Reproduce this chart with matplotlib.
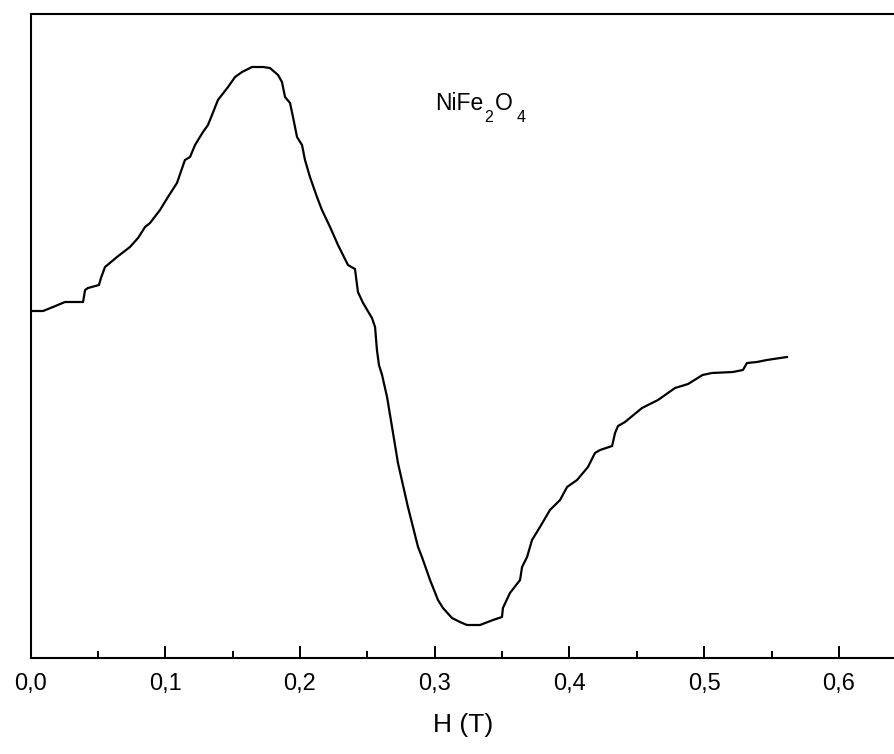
import matplotlib
matplotlib.use("Agg")
import matplotlib.pyplot as plt
from matplotlib.ticker import FixedLocator, FixedFormatter, MultipleLocator

plt.rcParams['font.family'] = ['Liberation Sans', 'DejaVu Sans']

# Field H (T)
H = [0.001, 0.0093, 0.0167, 0.0256, 0.0390, 0.0405, 0.0427, 0.0508, 0.0523, 0.0553,
     0.0642, 0.0738, 0.0798, 0.0850, 0.0887, 0.0961, 0.1020, 0.1087, 0.1146, 0.1184,
     0.1221, 0.1280, 0.1317, 0.1347, 0.1391, 0.1466, 0.1518, 0.1570, 0.1644, 0.1725,
     0.1777, 0.1837, 0.1866, 0.1889, 0.1926, 0.1948, 0.1978, 0.2015, 0.2037, 0.2074,
     0.2126, 0.2163, 0.2223, 0.2282, 0.2356, 0.2408, 0.2430, 0.2468, 0.2534, 0.2557,
     0.2571, 0.2586, 0.2609, 0.2646, 0.2683, 0.2727, 0.2801, 0.2876, 0.2905, 0.2965,
     0.3024, 0.3061, 0.3128, 0.3187, 0.3239, 0.3336, 0.3432, 0.3499, 0.3506, 0.3558,
     0.3633, 0.3648, 0.3685, 0.3722, 0.3781, 0.3855, 0.3930, 0.3982, 0.4056, 0.4137,
     0.4189, 0.4227, 0.4316, 0.4338, 0.4360, 0.4412, 0.4538, 0.4657, 0.4783, 0.4880,
     0.4987, 0.5057, 0.5213, 0.5287, 0.5317, 0.5391, 0.5465, 0.5614]

# ESR derivative signal (arb. units)
S = [347, 347, 351, 356, 356, 368, 370, 373, 380, 391,
     401, 411, 420, 431, 435, 448, 461, 475, 498, 501,
     513, 526, 533, 543, 558, 571, 581, 586, 591, 591,
     590, 583, 576, 561, 555, 541, 521, 513, 498, 481,
     461, 448, 431, 413, 393, 389, 366, 355, 340, 331,
     308, 293, 283, 261, 231, 195, 151, 111, 101, 78,
     58, 50, 40, 36, 33, 33, 38, 41, 50, 65,
     78, 91, 101, 118, 131, 148, 158, 171, 178, 191,
     205, 208, 212, 225, 232, 236, 250, 258, 270, 274,
     283, 285, 286, 288, 295, 296, 298, 301]

tick_vals = [0.0, 0.1, 0.2, 0.3, 0.4, 0.5, 0.6]
tick_labels = ['0,0', '0,1', '0,2', '0,3', '0,4', '0,5', '0,6']

fig = plt.figure(figsize=(8.94, 7.54), dpi=100)
ax = fig.add_axes([30.5 / 894, 96 / 754, 0.65 * 1347.5 / 894, 644.5 / 754])

ax.plot(H, S, color='black', lw=1.6)

ax.set_xlim(0, 0.65)
ax.set_ylim(0, 644.5)

ax.xaxis.set_major_locator(FixedLocator(tick_vals))
ax.xaxis.set_major_formatter(FixedFormatter(tick_labels))
ax.xaxis.set_minor_locator(MultipleLocator(0.05))
ax.tick_params(axis='x', which='major', direction='in', length=9, width=1.4,
               labelsize=17, pad=11)
ax.tick_params(axis='x', which='minor', direction='in', length=5, width=1.4)
ax.set_yticks([])
for sp in ax.spines.values():
    sp.set_linewidth(1.5)

# NiFe2O4 label built from pieces (subscripts set low and small)
base_y = 1 - 110 / 754
sub_y = 1 - 122 / 754
fig.text(435 / 894, base_y, 'NiFe', fontsize=16.5, ha='left', va='baseline')
fig.text(484 / 894, sub_y, '2', fontsize=11.5, ha='left', va='baseline')
fig.text(495 / 894, base_y, 'O', fontsize=16.5, ha='left', va='baseline')
fig.text(517 / 894, sub_y, '4', fontsize=11.5, ha='left', va='baseline')

fig.text(463 / 894, 1 - 725 / 754, 'H (T)', fontsize=19, ha='center', va='center')

fig.savefig('out.png', dpi=100)
